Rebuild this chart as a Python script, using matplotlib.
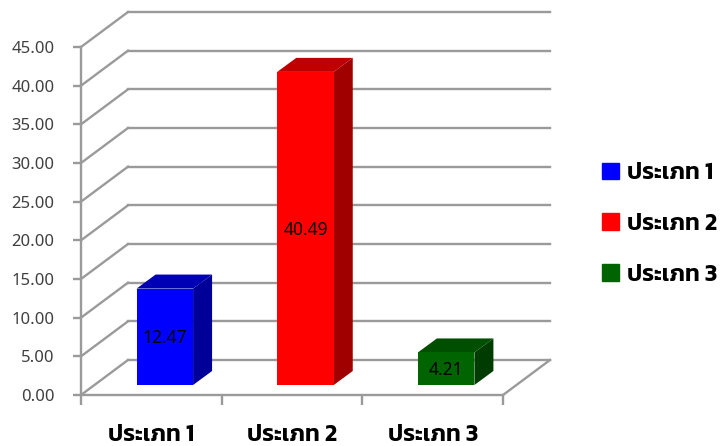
import matplotlib
matplotlib.use('Agg')
import matplotlib.pyplot as plt
from matplotlib.patches import Patch, Polygon

categories = ['ประเภท 1', 'ประเภท 2', 'ประเภท 3']
values = [12.47, 40.49, 4.21]
value_labels = ['12.47', '40.49', '4.21']
y_ticks = [0, 5, 10, 15, 20, 25, 30, 35, 40, 45]
front_colors = ['#0000ff', '#ff0000', '#006400']
top_colors = ['#0000b4', '#c00000', '#004f00']
side_colors = ['#000099', '#a00000', '#003c00']

W, H = 725, 446
grid_color = '#9a9a9a'
line_w = 1.7

# floor depth of the fake 3d box, in data units (1 category = 140.67px, 1 value = 7.73px)
depth_x = 47 / 140.67
depth_y = 35 / 7.733
# bars stand a bit in front of the back wall
bar_x = 13.5 / 140.67
bar_y = 10 / 7.733
bar_dx = 19 / 140.67
bar_dy = 14 / 7.733
bar_width = 56.5 / 140.67

fig = plt.figure(figsize=(W / 100, H / 100), dpi=100)
ax = fig.add_axes([81 / W, 1 - 395 / H, 422 / W, 348 / H])
ax.set_xlim(0, 3)
ax.set_ylim(0, 45)
ax.patch.set_visible(False)
for s in ['top', 'right', 'bottom']:
    ax.spines[s].set_visible(False)
ax.spines['left'].set_color(grid_color)
ax.spines['left'].set_linewidth(line_w)

# back wall lines and the slanted ones on the left wall
for v in y_ticks:
    ax.plot([depth_x, 3 + depth_x], [v + depth_y, v + depth_y], color=grid_color,
            lw=line_w, clip_on=False, zorder=1)
    ax.plot([0, depth_x], [v, v + depth_y], color=grid_color, lw=line_w, clip_on=False, zorder=1)
# floor
ax.plot([0, 3], [0, 0], color=grid_color, lw=line_w, clip_on=False, zorder=1)
ax.plot([3, 3 + depth_x], [0, depth_y], color=grid_color, lw=line_w, clip_on=False, zorder=1)

for i, v in enumerate(values):
    x0 = i + 0.5 + bar_x - bar_width / 2
    x1 = x0 + bar_width
    y0 = bar_y
    y1 = bar_y + v
    ax.add_patch(Polygon([(x1, y0), (x1 + bar_dx, y0 + bar_dy), (x1 + bar_dx, y1 + bar_dy), (x1, y1)],
                         color=side_colors[i], lw=0, clip_on=False, zorder=3))
    ax.add_patch(Polygon([(x0, y1), (x0 + bar_dx, y1 + bar_dy), (x1 + bar_dx, y1 + bar_dy), (x1, y1)],
                         color=top_colors[i], lw=0, clip_on=False, zorder=3))
    ax.bar(x0, v, bar_width, bottom=y0, align='edge', color=front_colors[i], zorder=4, clip_on=False)
    ax.text((x0 + x1) / 2, (y0 + y1) / 2 - 0.15, value_labels[i], ha='center', va='center',
            fontsize=12.5, family='Noto Sans', color='black', zorder=5)

ax.set_yticks(y_ticks)
ax.set_yticklabels(['%.2f' % v for v in y_ticks], fontsize=12, family='Noto Sans', color='#404040')
ax.tick_params(axis='y', length=6, width=line_w, color=grid_color, pad=13)

ax.set_xticks([0, 1, 2, 3])
ax.set_xticklabels([])
ax.set_xticks([0.5, 1.5, 2.5], minor=True)
ax.set_xticklabels(categories, minor=True, fontsize=17, family='Kanit', weight='semibold', color='black')
ax.tick_params(axis='x', which='major', length=7, width=line_w, color=grid_color)
ax.tick_params(axis='x', which='minor', length=0, pad=21)

handles = [Patch(color=c, label=n) for c, n in zip(front_colors, categories)]
leg = fig.legend(handles=handles, loc='center left', bbox_to_anchor=(581 / W, 1 - 224 / H), frameon=False,
                 handlelength=0.72, handleheight=0.72, handletextpad=0.34, labelspacing=1.22,
                 prop={'family': 'Kanit', 'weight': 'semibold', 'size': 17})

fig.savefig('out.png', dpi=100)
